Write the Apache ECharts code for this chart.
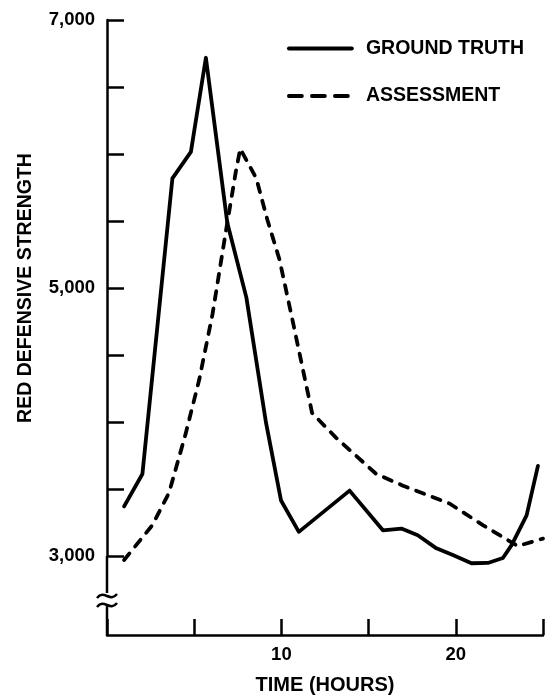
<!DOCTYPE html>
<html><head><meta charset="utf-8">
<script src="https://cdn.jsdelivr.net/npm/echarts@6/dist/echarts.min.js"></script>
<style>html,body{margin:0;padding:0;background:#fff}#c{width:551px;height:700px}</style>
</head><body><div id="c"></div><script>
// Data
const groundTruthHours  = [0.98, 2.03, 3.75, 4.81, 5.67, 6.9, 7.99, 9.12, 9.98, 11.0, 13.91, 15.82, 16.88, 17.82, 18.89, 19.83, 20.9, 21.84, 22.7, 23.2, 24.06, 24.71];
const groundTruthValues = [3370, 3612, 5818, 6016, 6718, 5485, 4930, 3993, 3414, 3180, 3488, 3192, 3205, 3155, 3057, 3007, 2946, 2948, 2985, 3081, 3303, 3673];
const assessmentHours  = [0.98, 2.6, 3.56, 4.52, 5.29, 6.05, 6.82, 7.39, 7.64, 8.56, 9.2, 9.89, 10.56, 11.76, 13.14, 14.29, 15.44, 16.97, 19.66, 21.57, 23.3, 23.55, 25.0];
const assessmentValues = [2970, 3230, 3473, 3917, 4317, 4805, 5426, 5870, 6040, 5818, 5507, 5212, 4807, 4067, 3882, 3747, 3612, 3525, 3390, 3229, 3094, 3074, 3130];
const yTickLabels = [3000, 5000, 7000];
const xTickLabels = [10, 20];
const seriesNames = ['GROUND TRUTH', 'ASSESSMENT'];

const FONT = '"Liberation Sans", Arial, Helvetica, sans-serif';
const pair = (xs, ys) => xs.map((x, i) => [x, ys[i]]);
const chart = echarts.init(document.getElementById('c'), null, {renderer: 'canvas'});

const solidStyle = {color: '#000', width: 3.8, join: 'round', cap: 'round'};
const dashStyle = {color: '#000', width: 3.8, type: [8.5, 9], cap: 'round', join: 'round'};

chart.setOption({
  animation: false,
  backgroundColor: '#ffffff',
  textStyle: {fontFamily: FONT},
  grid: {left: 107, right: 8, top: 20, bottom: 139, containLabel: false},
  legend: {
    orient: 'vertical', left: 287, top: 38.5, padding: 0,
    itemWidth: 63, itemHeight: 14, itemGap: 27.5,
    itemStyle: {opacity: 0},
    textStyle: {fontFamily: FONT, fontWeight: 'bold', fontSize: 19.5, color: '#000', padding: [0, 0, 0, 9]},
    data: [
      {name: seriesNames[0], lineStyle: {color: '#000', width: 3.8, type: 'solid', cap: 'round'}},
      {name: seriesNames[1], lineStyle: {color: '#000', width: 3.8, type: [13, 10], cap: 'round'}}
    ]
  },
  xAxis: {
    type: 'value', min: 0, max: 25, interval: 5, offset: 79,
    name: 'TIME (HOURS)', nameLocation: 'middle', nameGap: 40,
    nameTextStyle: {fontFamily: FONT, fontWeight: 'bold', fontSize: 20, color: '#000'},
    axisLine: {show: true, lineStyle: {color: '#000', width: 2.5}},
    axisTick: {show: true, inside: true, length: 16, lineStyle: {color: '#000', width: 2.5}},
    axisLabel: {
      margin: 10, color: '#000', fontFamily: FONT, fontWeight: 'bold', fontSize: 18.5,
      formatter: v => xTickLabels.includes(v) ? String(v) : ''
    },
    splitLine: {show: false}
  },
  yAxis: {
    type: 'value', min: 3000, max: 7000, interval: 500,
    name: 'RED DEFENSIVE STRENGTH', nameLocation: 'middle', nameGap: 71, nameRotate: 90,
    nameTextStyle: {fontFamily: FONT, fontWeight: 'bold', fontSize: 19.5, color: '#000'},
    axisLine: {show: true, lineStyle: {color: '#000', width: 2.5}},
    axisTick: {show: true, inside: true, length: 17, lineStyle: {color: '#000', width: 2.5}},
    axisLabel: {
      margin: 12, color: '#000', fontFamily: FONT, fontWeight: 'bold', fontSize: 18.5,
      formatter: v => yTickLabels.includes(v) ? v.toLocaleString('en-US') : ''
    },
    splitLine: {show: false}
  },
  series: [
    {
      name: seriesNames[0], type: 'line', symbol: 'none', clip: false,
      data: pair(groundTruthHours, groundTruthValues),
      lineStyle: solidStyle, itemStyle: {color: '#000'}
    },
    {
      name: seriesNames[1], type: 'line', symbol: 'none', clip: false,
      data: pair(assessmentHours, assessmentValues),
      lineStyle: dashStyle, itemStyle: {color: '#000'}
    }
  ]
});

// Axis extension below 3,000 with a break mark, anchored on the axis scale
const p3 = chart.convertToPixel({gridIndex: 0}, [0, 3000]);
const ax = p3[0], y3 = p3[1];
const yBottom = y3 + 79;
const ls = {stroke: '#000', lineWidth: 2.5, fill: null};
chart.setOption({
  graphic: [
    {type: 'line', shape: {x1: ax, y1: y3, x2: ax, y2: y3 + 37}, style: ls, silent: true},
    {type: 'line', shape: {x1: ax, y1: y3 + 50, x2: ax, y2: yBottom}, style: ls, silent: true},
    {type: 'bezierCurve', shape: {x1: ax - 10, y1: y3 + 42, cpx1: ax - 3, cpy1: y3 + 33, cpx2: ax + 3, cpy2: y3 + 47, x2: ax + 10, y2: y3 + 38}, style: ls, silent: true},
    {type: 'bezierCurve', shape: {x1: ax - 10, y1: y3 + 51, cpx1: ax - 3, cpy1: y3 + 42, cpx2: ax + 3, cpy2: y3 + 56, x2: ax + 10, y2: y3 + 47}, style: ls, silent: true}
  ]
});
</script></body></html>
